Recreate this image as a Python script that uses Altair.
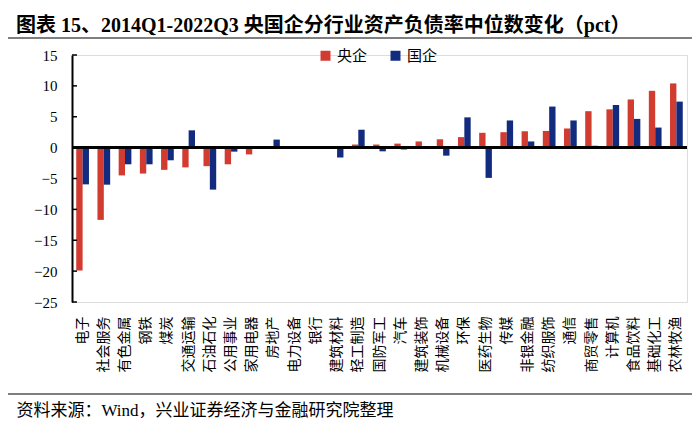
import altair as alt
import pandas as pd

industries = ["电子", "社会服务", "有色金属", "钢铁", "煤炭", "交通运输", "石油石化", "公用事业",
              "家用电器", "房地产", "电力设备", "银行", "建筑材料", "轻工制造", "国防军工", "汽车",
              "建筑装饰", "机械设备", "环保", "医药生物", "传媒", "非银金融", "纺织服饰", "通信",
              "商贸零售", "计算机", "食品饮料", "基础化工", "农林牧渔"]
central = [-19.9, -11.7, -4.5, -4.2, -3.6, -3.2, -3.0, -2.7, -1.1, -0.15, -0.1, 0.05, 0.2, 0.5,
           0.5, 0.65, 1.0, 1.35, 1.7, 2.4, 2.5, 2.65, 2.7, 3.1, 5.9, 6.2, 7.8, 9.2, 10.4]
state = [-5.95, -6.0, -2.7, -2.7, -2.05, 2.8, -6.8, -0.65, -0.1, 1.3, 0.1, -0.05, -1.6, 2.9,
         -0.6, -0.3, -0.1, -1.3, 4.9, -4.9, 4.4, 1.0, 6.65, 4.4, 0.3, 6.9, 4.65, 3.25, 7.45]
series = ["央企", "国企"]
colors = ["#D23B30", "#122B7F"]
y_ticks = [-25, -20, -15, -10, -5, 0, 5, 10, 15]

title_text = "图表 15、2014Q1-2022Q3 央国企分行业资产负债率中位数变化（pct）"
source_text = "资料来源：Wind，兴业证券经济与金融研究院整理"

rows = []
for name, c, s in zip(industries, central, state):
    rows.append({"行业": name, "类型": series[0], "值": c})
    rows.append({"行业": name, "类型": series[1], "值": s})
df = pd.DataFrame(rows)
ticks_df = pd.DataFrame({"t": y_ticks})

FONT = "'Liberation Serif', 'Noto Sans CJK SC', serif"

yscale = alt.Scale(domain=[-25, 15])
y_axis = alt.Axis(title=None, values=y_ticks, ticks=False, grid=False,
                  labelOverlap=False, labelFont=FONT, labelFontSize=15,
                  labelColor="#000000", labelPadding=15,
                  domainColor="#000000", domainWidth=2)

bars = alt.Chart(df).mark_bar().encode(
    x=alt.X("行业:N", sort=industries,
            scale=alt.Scale(paddingInner=0.4, paddingOuter=0.2),
            axis=alt.Axis(title=source_text, labelAngle=270, labelAlign="right",
                          labelBaseline="middle", labelPadding=14, labelFontSize=14,
                          labelFont=FONT, labelColor="#000000", domain=False, ticks=False,
                          titleFont=FONT, titleFontSize=17, titleFontWeight="normal",
                          titleColor="#000000", titleAnchor="start", titleAlign="left",
                          titleBaseline="middle", titleX=-56, titleY=108)),
    xOffset=alt.XOffset("类型:N", sort=series),
    y=alt.Y("值:Q", scale=yscale, axis=y_axis),
    color=alt.Color("类型:N", sort=series,
                    scale=alt.Scale(domain=series, range=colors),
                    legend=alt.Legend(title=None, orient="none", direction="horizontal",
                                      legendX=246, legendY=-7, symbolType="square",
                                      symbolSize=100, symbolStrokeWidth=0,
                                      labelFont=FONT, labelFontSize=15, labelColor="#000000",
                                      columnPadding=20)),
)

zero = alt.Chart(df).mark_rule(color="#000000", strokeWidth=2).encode(
    y=alt.Y(datum=0, scale=yscale, axis=y_axis))

tick_marks = alt.Chart(ticks_df).mark_rule(color="#000000", strokeWidth=1.5).encode(
    y=alt.Y("t:Q", scale=yscale, axis=y_axis), x=alt.value(0), x2=alt.value(5))

top_line = alt.Chart(ticks_df).mark_rule(color="#7F7F7F", strokeWidth=1.5).encode(
    x=alt.value(-64), x2=alt.value(620), y=alt.value(-17))
bottom_line = alt.Chart(ticks_df).mark_rule(color="#7F7F7F", strokeWidth=1.5).encode(
    x=alt.value(-64), x2=alt.value(620), y=alt.value(339))

chart = alt.layer(bars, zero, tick_marks, top_line, bottom_line).properties(
    width=615, height=247,
    autosize=alt.AutoSizeParams(type="none"),
    padding={"left": 64, "top": 47, "right": 5, "bottom": 116},
    title=alt.Title(title_text, anchor="start", frame="group", dx=-56, dy=19, offset=20,
                    font=FONT, fontSize=20, fontWeight="bold", color="#000000"),
).configure_view(stroke=None).configure(background="#FFFFFF").configure_axisY(labelOverlap=False)

chart.save("out.html", embed_options={"renderer": "svg", "actions": False})
